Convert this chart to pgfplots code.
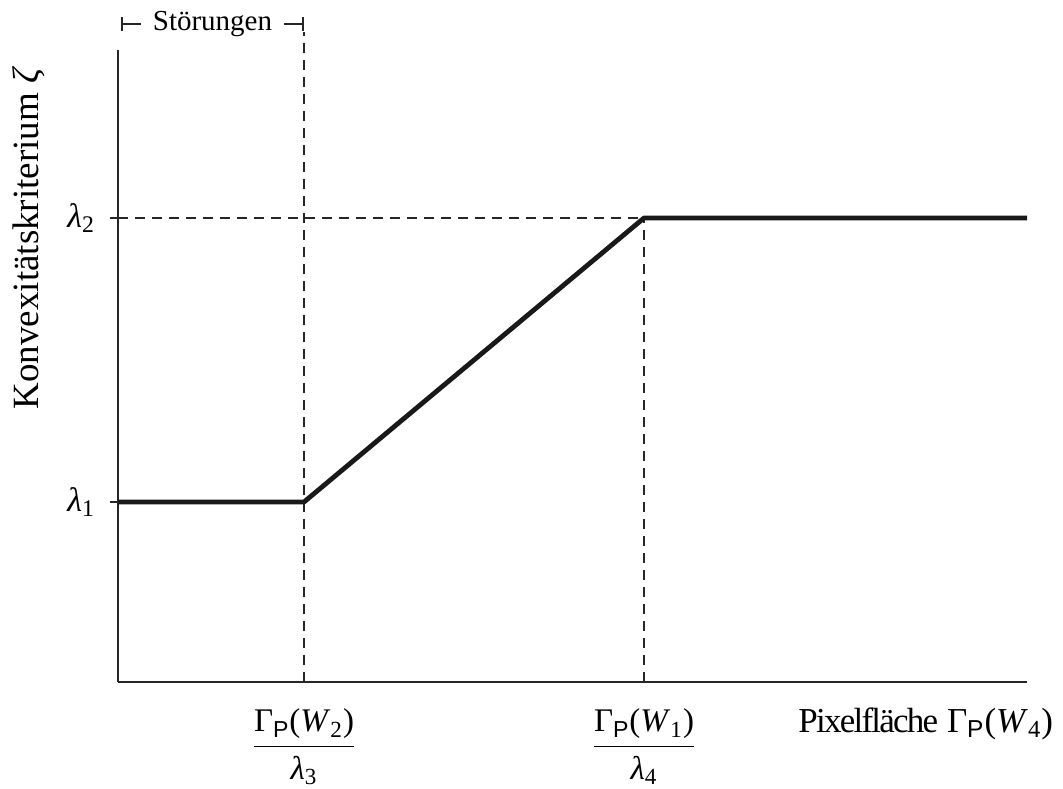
\documentclass[border=0pt]{standalone}
\usepackage{pgfplots}
\pgfplotsset{compat=1.18}
\usepackage{fontspec}
\setmainfont{Liberation Serif}
\setsansfont{Liberation Sans}
\usetikzlibrary{arrows.meta}
\newcommand{\GP}{Γ\textsubscript{\textsf{P}}}
\newcommand{\fr}[2]{$\displaystyle\frac{\mbox{#1}}{\mbox{#2}}$}
\begin{document}
\begin{tikzpicture}
\useasboundingbox (-59pt,-53pt) rectangle (472.5pt,341pt);
\begin{axis}[
  at={(0,0)}, anchor=south west,
  scale only axis, width=454.5pt, height=316pt,
  xmin=0, xmax=909, ymin=0, ymax=632,
  axis lines=left,
  axis line style={-, line width=1.2pt, black!85},
  clip=false,
  xtick={186,526},
  xticklabels={{\fr{\GP(\textit{W}\textsubscript{2})}{\textit{λ}\textsubscript{3}}},{\fr{\GP(\textit{W}\textsubscript{1})}{\textit{λ}\textsubscript{4}}}},
  xtick style={draw=none},
  xticklabel style={font=\fontsize{16.5}{20}\selectfont, yshift=-6pt},
  ytick={180,464},
  yticklabels={{\textit{λ}\textsubscript{1}},{\textit{λ}\textsubscript{2}}},
  ytick style={line width=0.9pt, black!85},
  tick align=outside,
  major tick length=4pt,
  yticklabel style={font=\fontsize{17}{19}\selectfont, xshift=-4pt},
  xlabel={{\addfontfeature{LetterSpace=-5}Pixelfläche} \GP(\textit{W}\textsubscript{4})},
  xlabel style={font=\fontsize{17.5}{22}\selectfont, at={(axis description cs:1.0363,0)}, anchor=base east, yshift=-25pt},
  ylabel={Konvexitätskriterium \textit{ζ}},
  ylabel style={font=\fontsize{18.5}{22}\selectfont, at={(axis description cs:-0.088,0.7025)}, anchor=base},
]
% dashed guide lines
\addplot[black!85, line width=0.9pt, dash pattern=on 5pt off 3.5pt] coordinates {(186,0) (186,650)};
\addplot[black!85, line width=0.9pt, dash pattern=on 5pt off 3.5pt] coordinates {(526,0) (526,464)};
\addplot[black!85, line width=0.9pt, dash pattern=on 5pt off 3.5pt] coordinates {(0,464) (526,464)};
% main curve
\addplot[black!90, line width=2.4pt, line join=round] coordinates {(0,180) (186,180) (526,464) (909,464)};
% bracket
\draw[black!85, line width=1pt, {Bar[width=7pt]}-{Bar[width=7pt]}] (axis cs:3,658) -- (axis cs:186,658)
  node[midway, fill=white, inner xsep=6pt, inner ysep=1pt, font=\fontsize{14.5}{16}\selectfont, text=black] {Störungen};
\end{axis}
\end{tikzpicture}
\end{document}
